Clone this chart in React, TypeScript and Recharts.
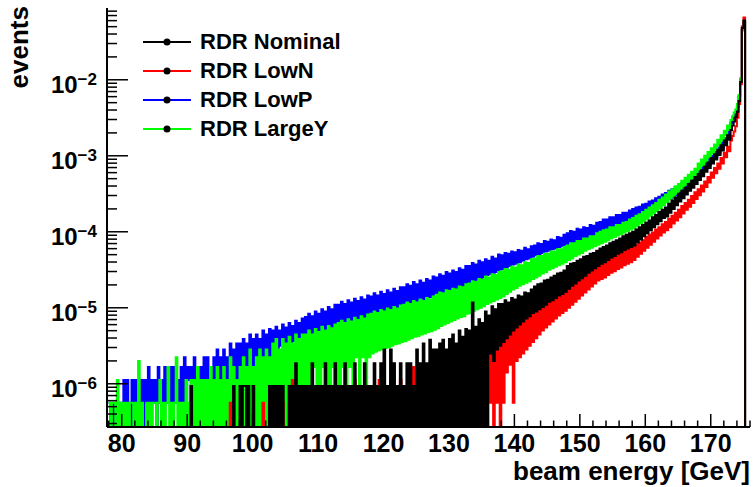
import React from 'react';
import { LineChart, Line, XAxis, YAxis, Legend } from 'recharts';

// histogram binning in GeV (low edge of first bin, bin width)
const binStart = 78;
const binWidth = 0.25;

const N = null; // empty bin

// log10(events) per bin, one row = 5 GeV (20 bins)
const nominalLog = [
  N, N, N, N, N, N, N, N, N, N, N, N, N, N, N, N, N, N, N, N,
  N, N, N, N, N, N, N, N, N, N, N, N, N, N, N, N, N, N, N, N,
  N, N, N, N, N, N, N, N, N, N, -6.03, N, N, N, N, N, N, N, N, N,
  N, N, N, N, N, N, N, N, N, N, N, N, N, N, N, N, -6.03, N, N, N,
  -6.03, N, -6.03, -6.03, N, -6.03, N, N, -6.03, N, N, N, N, N, N, N, N, N, -6.03, N,
  -6.03, N, -6.03, N, -6.03, N, -6.03, N, N, N, -6.03, N, -6.03, N, -5.73, N, -6.03, N, -6.03, N,
  -6.03, N, -6.03, N, -5.73, N, -6.03, N, -6.03, N, -6.03, N, -5.73, N, -6.03, N, -6.03, N, -5.73, N,
  -6.03, N, -6.03, N, -5.73, N, -6.03, N, -6.03, N, -5.73, N, -6.03, N, -6.03, N, -5.73, N, -6.03, N,
  -6.03, N, -5.73, N, -6.03, N, -5.73, N, -5.55, N, -6.03, N, -5.55, N, -5.73, N, -6.03, N, -5.73, N,
  -6.03, N, -5.73, N, -5.73, N, -6.03, N, -5.55, N, -5.73, N, -5.47, N, -5.73, N, -5.42, N, -5.55, N,
  -5.55, N, -5.47, N, -5.42, N, -5.55, N, -5.41, N, -5.35, N, -5.47, N, -5.3, N, -5.38, N, -5.28, N,
  -5.3, N, -4.93, N, -5.25, N, -5.15, N, -5.2, N, -5.05, N, -5.1, -5.6, -4.98, -5.7, -5.02, -5.55, -4.95, -5.5,
  -4.95, -5.45, -4.9, -5.4, -4.93, -5.35, -4.87, -5.3, -4.89, -5.26, -4.84, -5.22, -4.85, -5.18, -4.8, -5.14, -4.81, -5.11, -4.76, -5.07,
  -4.72, -5.05, -4.69, -5.02, -4.68, -4.99, -4.64, -4.96, -4.63, -4.92, -4.6, -4.9, -4.58, -4.87, -4.55, -4.84, -4.54, -4.82, -4.51, -4.79,
  -4.45, -4.75, -4.42, -4.71, -4.41, -4.68, -4.38, -4.64, -4.36, -4.61, -4.33, -4.58, -4.32, -4.54, -4.29, -4.51, -4.28, -4.48, -4.25, -4.45,
  -4.22, -4.42, -4.2, -4.4, -4.18, -4.37, -4.15, -4.34, -4.13, -4.32, -4.11, -4.29, -4.09, -4.27, -4.06, -4.24, -4.04, -4.22, -4.02, -4.2,
  -4.0, -4.18, -3.97, -4.14, -3.94, -4.1, -3.91, -4.06, -3.88, -4.02, -3.85, -3.98, -3.81, -3.94, -3.78, -3.9, -3.74, -3.86, -3.71, -3.82,
  -3.68, -3.8, -3.63, -3.75, -3.59, -3.7, -3.55, -3.65, -3.5, -3.6, -3.46, -3.56, -3.42, -3.51, -3.37, -3.46, -3.33, -3.42, -3.28, -3.37,
  -3.24, -3.32, -3.19, -3.27, -3.14, -3.21, -3.09, -3.16, -3.03, -3.1, -2.98, -3.05, -2.92, -2.99, -2.86, -2.93, -2.8, -2.86, -2.73, -2.79,
  -2.66, -2.6, -2.55, -2.49, -2.42, -2.28, -2.03, -1.32, -1.22, N, N, N, N,
];

const lowNLog = [
  N, N, N, N, N, N, N, N, N, N, N, N, N, N, N, N, N, N, N, N,
  N, N, N, N, N, N, N, N, N, N, N, N, N, N, N, N, N, N, N, N,
  N, N, N, N, N, N, N, N, N, N, N, N, N, N, N, N, N, N, N, N,
  N, N, N, N, N, N, N, N, N, N, N, N, N, N, -6.25, N, N, N, N, N,
  N, N, N, N, N, N, N, N, N, N, N, N, N, N, -6.25, N, N, N, N, N,
  N, N, N, N, N, N, -6.25, N, N, N, N, N, -5.95, N, N, N, -6.25, N, -6.25, N,
  N, -6.25, N, N, N, N, N, N, N, -6.25, N, N, N, N, N, -6.25, N, N, N, N,
  N, N, N, -6.25, N, N, N, N, N, N, -5.95, N, N, N, N, N, N, -6.25, N, N,
  N, -6.25, N, N, N, -5.95, N, N, -6.25, N, N, N, -5.95, N, N, -6.25, N, N, -5.95, N,
  N, -6.25, N, -5.95, N, N, -5.78, N, -6.25, N, -5.95, N, N, -5.78, N, -6.25, -5.95, N, -5.78, N,
  -5.78, N, -5.95, N, -5.65, N, -5.78, N, -5.65, N, -5.55, N, -5.78, N, -5.65, N, -5.55, N, -5.65, N,
  -5.55, N, -5.47, N, -5.55, N, -5.41, N, -5.47, N, -5.38, N, -5.47, -6.25, -5.41, N, -5.35, -6.25, -5.42, N,
  -5.32, -6.25, -5.28, -5.85, -5.24, -5.75, -5.2, -6.25, -5.16, -5.7, -5.12, -5.65, -5.08, -5.6, -5.05, -5.55, -5.01, -5.5, -4.97, -5.45,
  -4.94, -5.4, -4.91, -5.35, -4.88, -5.3, -4.85, -5.26, -4.83, -5.22, -4.8, -5.18, -4.78, -5.14, -4.75, -5.1, -4.73, -5.07, -4.7, -5.04,
  -4.68, -5.0, -4.65, -4.96, -4.62, -4.92, -4.6, -4.88, -4.57, -4.84, -4.54, -4.8, -4.52, -4.76, -4.49, -4.72, -4.47, -4.68, -4.44, -4.64,
  -4.42, -4.62, -4.4, -4.6, -4.38, -4.57, -4.35, -4.54, -4.33, -4.52, -4.31, -4.49, -4.29, -4.47, -4.26, -4.44, -4.24, -4.42, -4.22, -4.4,
  -4.2, -4.37, -4.17, -4.33, -4.14, -4.29, -4.11, -4.25, -4.07, -4.21, -4.04, -4.17, -4.01, -4.13, -3.97, -4.09, -3.94, -4.05, -3.9, -4.01,
  -3.87, -3.98, -3.83, -3.94, -3.79, -3.89, -3.75, -3.85, -3.71, -3.81, -3.66, -3.76, -3.62, -3.71, -3.58, -3.67, -3.53, -3.62, -3.48, -3.57,
  -3.44, -3.52, -3.39, -3.47, -3.34, -3.41, -3.28, -3.35, -3.22, -3.29, -3.16, -3.23, -3.1, -3.17, -3.03, -3.1, -2.96, -3.02, -2.88, -2.94,
  -2.8, -2.74, -2.68, -2.61, -2.5, -2.32, -2.06, -1.3, -1.18, N, N, N, N,
];

const lowPLog = [
  -6.25, N, -6.25, N, -6.25, -6.25, N, -6.25, N, -5.95, N, -5.95, -6.25, N, -5.95, N, -5.95, -6.25, -5.95, N,
  -5.95, N, -5.95, -6.25, -5.78, N, -5.95, -6.25, -5.95, N, -5.78, -6.25, -5.95, N, -5.78, -6.25, -5.95, -6.25, -5.78, N,
  -5.78, -6.25, -5.95, -6.25, -5.78, -6.25, -5.65, -6.25, -5.78, -5.95, -5.78, -6.25, -5.65, -6.25, -5.78, -6.25, -5.78, -5.95, -5.65, -6.25,
  -5.65, -6.25, -5.78, -5.95, -5.65, -6.25, -5.55, -5.95, -5.65, -5.95, -5.55, -6.25, -5.65, -5.95, -5.47, -5.95, -5.55, -5.95, -5.47, -5.95,
  -5.47, -5.78, -5.41, -5.95, -5.47, -5.78, -5.35, -5.78, -5.41, -5.78, -5.35, -5.65, -5.41, -5.78, -5.3, -5.65, -5.35, -5.65, -5.28, -5.65,
  -5.3, -5.55, -5.25, -5.55, -5.3, -5.5, -5.22, -5.55, -5.26, -5.47, -5.2, -5.47, -5.24, -5.44, -5.17, -5.47, -5.2, -5.41, -5.14, -5.41,
  -5.12, -5.38, -5.08, -5.35, -5.11, -5.33, -5.05, -5.34, -5.08, -5.3, -5.02, -5.28, -5.05, -5.29, -4.99, -5.25, -5.02, -5.26, -4.96, -5.22,
  -4.96, -5.2, -4.92, -5.18, -4.95, -5.19, -4.9, -5.16, -4.93, -5.17, -4.88, -5.14, -4.91, -5.15, -4.86, -5.12, -4.89, -5.13, -4.84, -5.1,
  -4.85, -5.1, -4.81, -5.08, -4.84, -5.09, -4.79, -5.05, -4.82, -5.06, -4.77, -5.02, -4.8, -5.03, -4.75, -5.0, -4.78, -5.01, -4.73, -4.97,
  -4.73, -4.96, -4.69, -4.94, -4.71, -4.94, -4.66, -4.91, -4.69, -4.91, -4.64, -4.88, -4.67, -4.89, -4.62, -4.86, -4.64, -4.86, -4.59, -4.83,
  -4.6, -4.83, -4.56, -4.81, -4.58, -4.8, -4.53, -4.78, -4.55, -4.77, -4.51, -4.75, -4.53, -4.74, -4.48, -4.71, -4.5, -4.71, -4.45, -4.68,
  -4.45, -4.67, -4.41, -4.65, -4.43, -4.63, -4.38, -4.61, -4.4, -4.6, -4.36, -4.57, -4.38, -4.56, -4.33, -4.54, -4.35, -4.53, -4.3, -4.5,
  -4.31, -4.49, -4.28, -4.47, -4.29, -4.45, -4.26, -4.43, -4.27, -4.42, -4.24, -4.4, -4.25, -4.38, -4.21, -4.36, -4.23, -4.35, -4.19, -4.33,
  -4.18, -4.31, -4.15, -4.3, -4.16, -4.28, -4.12, -4.26, -4.13, -4.25, -4.1, -4.23, -4.11, -4.22, -4.07, -4.2, -4.08, -4.19, -4.04, -4.17,
  -4.02, -4.17, -3.99, -4.15, -4.0, -4.13, -3.96, -4.11, -3.97, -4.1, -3.94, -4.08, -3.95, -4.07, -3.91, -4.05, -3.92, -4.04, -3.88, -4.02,
  -3.87, -4.01, -3.84, -3.99, -3.84, -3.97, -3.81, -3.95, -3.81, -3.93, -3.78, -3.91, -3.78, -3.9, -3.75, -3.88, -3.75, -3.86, -3.72, -3.85,
  -3.7, -3.83, -3.68, -3.81, -3.67, -3.79, -3.64, -3.77, -3.63, -3.75, -3.6, -3.72, -3.59, -3.7, -3.56, -3.67, -3.54, -3.65, -3.51, -3.62,
  -3.49, -3.6, -3.46, -3.57, -3.44, -3.55, -3.41, -3.52, -3.38, -3.49, -3.36, -3.46, -3.33, -3.43, -3.29, -3.39, -3.26, -3.36, -3.22, -3.32,
  -3.18, -3.27, -3.14, -3.22, -3.09, -3.17, -3.04, -3.12, -3.0, -3.07, -2.95, -3.02, -2.89, -2.96, -2.83, -2.9, -2.77, -2.83, -2.68, -2.73,
  -2.57, -2.52, -2.47, -2.43, -2.36, -2.22, -2.0, -1.34, -1.24, N, N, N, N,
];

const largeYLog = [
  -6.25, N, -6.25, -6.25, N, -5.95, N, -6.25, N, -6.25, N, -6.25, N, -6.25, -6.25, N, -6.25, N, -5.7, N,
  -6.25, N, N, -6.25, N, -6.25, N, -6.25, -6.25, N, -6.25, -5.95, N, -6.25, N, -6.25, -5.78, N, -6.25, N,
  -6.25, -5.65, N, -6.25, N, -6.25, N, -5.95, N, -6.25, -5.95, N, -5.95, N, -5.78, N, -5.95, N, -5.95, N,
  -5.95, N, -5.78, N, -5.95, N, -5.78, N, -5.95, N, -5.78, N, -5.95, N, -5.65, N, -5.78, N, -5.95, N,
  -5.78, N, -5.65, N, -5.78, N, -5.55, N, -5.78, N, -5.65, N, -5.55, N, -5.65, N, -5.55, N, -5.65, N,
  -5.47, N, -5.41, N, -5.55, N, -5.41, N, -5.47, N, -5.38, N, -5.47, N, -5.35, N, -5.41, N, -5.35, N,
  -5.35, N, -5.3, N, -5.35, -5.78, -5.28, N, -5.32, N, -5.25, -5.78, -5.3, N, -5.24, N, -5.27, -5.78, -5.22, N,
  -5.2, N, -5.17, -5.78, -5.2, N, -5.15, -5.78, -5.18, N, -5.13, -5.65, -5.16, N, -5.11, -5.65, -5.14, N, -5.09, -5.65,
  -5.08, -5.6, -5.05, -5.58, -5.07, -5.56, -5.03, -5.55, -5.05, -5.53, -5.01, -5.52, -5.03, -5.5, -4.99, -5.48, -5.01, -5.47, -4.97, -5.45,
  -4.96, -5.44, -4.93, -5.42, -4.95, -5.4, -4.91, -5.38, -4.93, -5.37, -4.89, -5.35, -4.91, -5.34, -4.87, -5.32, -4.89, -5.31, -4.85, -5.29,
  -4.83, -5.27, -4.8, -5.24, -4.81, -5.22, -4.77, -5.2, -4.78, -5.18, -4.75, -5.16, -4.76, -5.14, -4.72, -5.12, -4.73, -5.11, -4.69, -5.08,
  -4.68, -5.07, -4.65, -5.04, -4.66, -5.02, -4.62, -5.0, -4.63, -4.98, -4.59, -4.95, -4.6, -4.93, -4.56, -4.91, -4.57, -4.89, -4.53, -4.87,
  -4.52, -4.85, -4.49, -4.82, -4.5, -4.79, -4.46, -4.76, -4.47, -4.74, -4.43, -4.71, -4.44, -4.69, -4.4, -4.67, -4.41, -4.65, -4.36, -4.62,
  -4.35, -4.6, -4.32, -4.58, -4.32, -4.55, -4.29, -4.53, -4.29, -4.5, -4.26, -4.48, -4.26, -4.46, -4.23, -4.44, -4.23, -4.42, -4.2, -4.4,
  -4.18, -4.37, -4.15, -4.35, -4.15, -4.32, -4.12, -4.3, -4.12, -4.28, -4.09, -4.25, -4.09, -4.23, -4.06, -4.21, -4.06, -4.19, -4.02, -4.17,
  -4.0, -4.15, -3.98, -4.13, -3.97, -4.11, -3.94, -4.09, -3.94, -4.07, -3.91, -4.05, -3.91, -4.03, -3.88, -4.01, -3.87, -3.99, -3.84, -3.97,
  -3.82, -3.95, -3.79, -3.92, -3.77, -3.89, -3.74, -3.86, -3.71, -3.83, -3.68, -3.79, -3.65, -3.76, -3.62, -3.73, -3.58, -3.69, -3.55, -3.65,
  -3.51, -3.61, -3.47, -3.57, -3.44, -3.54, -3.4, -3.5, -3.37, -3.46, -3.33, -3.42, -3.29, -3.38, -3.25, -3.34, -3.21, -3.3, -3.17, -3.26,
  -3.1, -3.18, -3.05, -3.13, -3.0, -3.08, -2.95, -3.02, -2.9, -2.97, -2.85, -2.92, -2.79, -2.86, -2.73, -2.8, -2.67, -2.73, -2.6, -2.66,
  -2.53, -2.48, -2.43, -2.39, -2.32, -2.2, -1.98, -1.35, -1.23, N, N, N, N,
];

const seriesKeys = ['lowP', 'largeY', 'lowN', 'nominal']; // drawing order
const legendKeys = ['nominal', 'lowN', 'lowP', 'largeY'];
const legendNames = ['RDR Nominal', 'RDR LowN', 'RDR LowP', 'RDR LargeY'];
const colors: Record<string, string> = {
  nominal: '#000000',
  lowN: '#ff0000',
  lowP: '#0000ff',
  largeY: '#00ff00',
};

const xTicks = [
  78, 80, 82, 84, 86, 88, 90, 92, 94, 96, 98, 100, 102, 104, 106, 108, 110, 112, 114, 116,
  118, 120, 122, 124, 126, 128, 130, 132, 134, 136, 138, 140, 142, 144, 146, 148, 150, 152,
  154, 156, 158, 160, 162, 164, 166, 168, 170, 172, 174, 176,
];
const yDecades = [-7, -6, -5, -4, -3, -2];
const xDomain = [77.75, 176];
const yDomain = [2.7e-7, 0.088];

const FONT = '"Liberation Sans", Arial, Helvetica, sans-serif';
const EMPTY = 1e-9; // empty bins fall below the frame and get clipped

const toEvents = (v: number | null | undefined) => (v == null ? EMPTY : Math.pow(10, v));

const data = nominalLog.map((_, i) => ({
  e: binStart + i * binWidth,
  nominal: toEvents(nominalLog[i]),
  lowN: toEvents(lowNLog[i]),
  lowP: toEvents(lowPLog[i]),
  largeY: toEvents(largeYLog[i]),
}));

const yTicks: number[] = [];
yDecades.forEach((d) => {
  for (let m = 1; m <= 9; m++) {
    const v = Number((m * Math.pow(10, d)).toPrecision(3));
    if (v >= yDomain[0] && v <= yDomain[1]) yTicks.push(v);
  }
});

const isMajorY = (v: number) => {
  const exp = Math.round(Math.log10(v));
  return Math.abs(v / Math.pow(10, exp) - 1) < 1e-6;
};

const XTickBottom = (p: any) => {
  const v = p.payload.value;
  const major = v % 10 === 0;
  return (
    <g>
      <line x1={p.x} y1={p.y} x2={p.x} y2={p.y - (major ? 13 : 6.5)} stroke="#000" strokeWidth={1.5} />
      {major && (
        <text x={p.x} y={p.y + 25} textAnchor="middle" fontSize={25} fontWeight="bold" fontFamily={FONT} fill="#000">
          {v}
        </text>
      )}
    </g>
  );
};

const XTickTop = (p: any) => {
  const major = p.payload.value % 10 === 0;
  return <line x1={p.x} y1={p.y} x2={p.x} y2={p.y + (major ? 12 : 6)} stroke="#000" strokeWidth={1.5} />;
};

const YTickLeft = (p: any) => {
  const v = p.payload.value;
  const major = isMajorY(v);
  const exp = Math.round(Math.log10(v));
  return (
    <g>
      <line x1={p.x} y1={p.y} x2={p.x + (major ? 21 : 10)} y2={p.y} stroke="#000" strokeWidth={1.5} />
      {major && (
        <text x={p.x - 10} y={p.y + 13} textAnchor="end" fontSize={24} fontWeight="bold" fontFamily={FONT} fill="#000">
          10
          <tspan dy={-8} fontSize={17}>{'\u2212' + -exp}</tspan>
        </text>
      )}
    </g>
  );
};

const YTickRight = (p: any) => {
  const major = isMajorY(p.payload.value);
  return <line x1={p.x} y1={p.y} x2={p.x - (major ? 14 : 7)} y2={p.y} stroke="#000" strokeWidth={1.5} />;
};

const LegendBox = () => (
  <div style={{ fontFamily: FONT, fontWeight: 'bold', fontSize: 22, color: '#000' }}>
    {legendKeys.map((k, i) => (
      <div key={k} style={{ display: 'flex', alignItems: 'center', height: 29 }}>
        <svg width={48} height={10}>
          <line x1={0} y1={5} x2={48} y2={5} stroke={colors[k]} strokeWidth={2} />
          <circle cx={24} cy={5} r={3.5} fill="#000" />
        </svg>
        <span style={{ marginLeft: 9, lineHeight: '29px' }}>{legendNames[i]}</span>
      </div>
    ))}
  </div>
);

const App: React.FC = () => {
  return (
    <div style={{ position: 'absolute', left: 0, top: 0, width: 756, height: 487, background: '#fff' }}>
      <LineChart
        width={756}
        height={487}
        data={data}
        margin={{ top: 8, right: 6, bottom: 0, left: 0 }}
        style={{ fontFamily: FONT }}
      >
        <XAxis
          dataKey="e"
          type="number"
          domain={xDomain}
          allowDataOverflow
          ticks={xTicks}
          interval={0}
          tickSize={0}
          tickMargin={0}
          tick={XTickBottom}
          axisLine={{ stroke: '#000', strokeWidth: 2 }}
          height={60}
          label={() => (
            <text x={750} y={480} textAnchor="end" fontSize={26} fontWeight="bold" fontFamily={FONT} fill="#000">
              beam energy [GeV]
            </text>
          )}
        />
        <XAxis
          xAxisId="top"
          orientation="top"
          dataKey="e"
          type="number"
          domain={xDomain}
          allowDataOverflow
          ticks={xTicks}
          interval={0}
          tickSize={0}
          tickMargin={0}
          tick={XTickTop}
          axisLine={{ stroke: '#000', strokeWidth: 2 }}
          height={0}
        />
        <YAxis
          scale="log"
          type="number"
          domain={yDomain}
          allowDataOverflow
          ticks={yTicks}
          interval={0}
          tickSize={0}
          tickMargin={0}
          tick={YTickLeft}
          axisLine={{ stroke: '#000', strokeWidth: 2 }}
          width={107}
          label={() => (
            <text
              x={28}
              y={6}
              transform="rotate(-90, 28, 6)"
              textAnchor="end"
              fontSize={26}
              fontWeight="bold"
              fontFamily={FONT}
              fill="#000"
            >
              events
            </text>
          )}
        />
        <YAxis
          yAxisId="right"
          orientation="right"
          scale="log"
          type="number"
          domain={yDomain}
          allowDataOverflow
          ticks={yTicks}
          interval={0}
          tickSize={0}
          tickMargin={0}
          tick={YTickRight}
          axisLine={{ stroke: '#000', strokeWidth: 2 }}
          width={0}
        />
        <Legend
          layout="vertical"
          align="center"
          verticalAlign="middle"
          content={LegendBox}
          wrapperStyle={{ left: 143, top: 27, width: 'auto', height: 'auto' }}
        />
        {seriesKeys.map((k) => (
          <Line
            key={k}
            type="stepAfter"
            dataKey={k}
            stroke={colors[k]}
            strokeWidth={2}
            dot={false}
            activeDot={false}
            isAnimationActive={false}
          />
        ))}
      </LineChart>
    </div>
  );
};

export default App;
